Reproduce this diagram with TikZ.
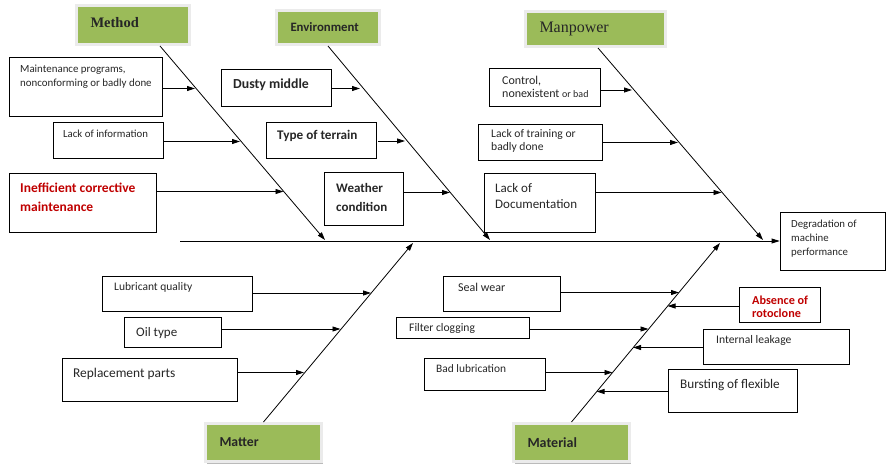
\documentclass[tikz,border=0pt]{standalone}
\usepackage{fontspec}
\setmainfont{Carlito}
\newfontfamily\catserif{Liberation Serif}
\usetikzlibrary{arrows.meta,shadows}
\definecolor{catgreen}{HTML}{9BBB59}
\definecolor{causered}{HTML}{C00000}
\tikzset{
  cat/.style={draw=black!8, line width=3pt, fill=catgreen, inner xsep=14pt, align=left, text=black!85,
    drop shadow={shadow xshift=1.5pt, shadow yshift=-2pt, opacity=.45, fill=black!60}},
  cause/.style={draw, line width=0.8pt, fill=white, inner sep=0pt},
  txt/.style={inner sep=0pt, align=left, anchor=west, text=black!85},
  arr/.style={line width=0.8pt, -{Triangle[length=8pt,width=5pt]}}
}
\begin{document}
\begin{tikzpicture}[x=1pt,y=-1pt]
    \useasboundingbox (0,0) rectangle (886,468);

    % categories
    \node (method) [cat, minimum width=113pt, minimum height=39pt, text width=85pt, text depth=6pt, font=\catserif\bfseries\fontsize{14.5}{16}\selectfont] at (133,25) {Method};
    \node (environment) [cat, minimum width=103pt, minimum height=34pt, text width=75pt, font=\bfseries\fontsize{12.8}{14}\selectfont] at (328,27.5) {Environment};
    \node (manpower) [cat, minimum width=140pt, minimum height=35pt, text width=112pt, font=\catserif\fontsize{16}{17}\selectfont] at (595.5,29) {Manpower};
    \node (matter) [cat, minimum width=116pt, minimum height=38pt, text width=88pt, font=\bfseries\fontsize{13.7}{15}\selectfont] at (263.5,442.5) {Matter};
    \node (material) [cat, minimum width=116pt, minimum height=38pt, text width=88pt, font=\bfseries\fontsize{14}{15}\selectfont] at (571.5,442.5) {Material};

    % effect
    \node (effect) [cause, minimum width=105pt, minimum height=58pt] at (832.5,241) {};
    \node (effectt) [txt, font=\fontsize{10.8}{14}\selectfont] at (791,239) {Degradation of\\machine\\performance};

    % spine and bones
    \coordinate (tail) at (180,241);
    \coordinate (methodend) at (325,240);
    \coordinate (environmentend) at (490,240);
    \coordinate (manpowerend) at (763,240);
    \coordinate (matterend) at (413,243);
    \coordinate (materialend) at (720,243);
    \draw[arr] (tail) -- (effect.west);
    \draw[arr] ([xshift=27pt]method.south) -- (methodend);
    \draw[arr] (environment.south) -- (environmentend);
    \draw[arr] ([xshift=2.5pt]manpower.south) -- (manpowerend);
    \draw[arr] (matter.north) -- (matterend);
    \draw[arr] (material.north) -- (materialend);

    % method causes
    \node (mc1) [cause, minimum width=153pt, minimum height=59pt] at (85.5,86.5) {};
    \node (mc1t) [txt, font=\fontsize{10.9}{14}\selectfont] at (20,77) {Maintenance programs,\\nonconforming or badly done};
    \node (mc2) [cause, minimum width=110pt, minimum height=36pt] at (108,140) {};
    \node (mc2t) [txt, font=\fontsize{10.8}{13}\selectfont] at (63,134) {Lack of information};
    \node (mc3) [cause, minimum width=147pt, minimum height=59pt] at (82.5,202.5) {};
    \node (mc3t) [txt, text=causered, font=\bfseries\fontsize{13.5}{19}\selectfont] at (20,197) {Inefficient corrective\\maintenance};
    \coordinate (m1) at (195,88.5);
    \coordinate (m2) at (240,141.5);
    \coordinate (m3) at (283.5,191.5);
    \draw[arr] (mc1.east |- m1) -- (m1);
    \draw[arr] (mc2.east |- m2) -- (m2);
    \draw[arr] (mc3.east |- m3) -- (m3);

    % environment causes
    \node (ec1) [cause, minimum width=110pt, minimum height=37pt] at (276,87.5) {};
    \node (ec1t) [txt, font=\bfseries\fontsize{13.8}{16}\selectfont] at (233,85) {Dusty middle};
    \node (ec2) [cause, minimum width=110pt, minimum height=36pt] at (321,140) {};
    \node (ec2t) [txt, font=\bfseries\fontsize{13.2}{16}\selectfont] at (277,136) {Type of terrain};
    \node (ec3) [cause, minimum width=79pt, minimum height=53pt] at (363.5,198.5) {};
    \node (ec3t) [txt, font=\bfseries\fontsize{13}{19}\selectfont] at (336,197.5) {Weather\\condition};
    \coordinate (e1) at (360,88.5);
    \coordinate (e2) at (405,141);
    \coordinate (e3) at (450,192.5);
    \draw[arr] (ec1.east |- e1) -- (e1);
    \draw[arr] ([xshift=2pt]ec2.east |- e2) -- (e2);
    \draw[arr] (ec3.east |- e3) -- (e3);

    % manpower causes
    \node (pc1) [cause, minimum width=111pt, minimum height=38pt] at (544.5,87) {};
    \node (pc1t) [txt, font=\fontsize{12}{13.5}\selectfont] at (502,87) {Control,\\nonexistent {\fontsize{10}{13.5}\selectfont or bad}};
    \node (pc2) [cause, minimum width=124pt, minimum height=36pt] at (540,142) {};
    \node (pc2t) [txt, font=\fontsize{11.6}{12.5}\selectfont] at (491,141) {Lack of training or\\badly done};
    \node (pc3) [cause, minimum width=111pt, minimum height=59pt] at (539.5,202.5) {};
    \node (pc3t) [txt, font=\fontsize{13}{16}\selectfont] at (495,196) {Lack of\\Documentation};
    \coordinate (p1) at (632,90);
    \coordinate (p2) at (678,142.5);
    \coordinate (p3) at (721.5,192.5);
    \draw[arr] (pc1.east |- p1) -- (p1);
    \draw[arr] (pc2.east |- p2) -- (p2);
    \draw[arr] (pc3.east |- p3) -- (p3);

    % matter causes
    \node (tc1) [cause, minimum width=150pt, minimum height=35pt] at (177,293.5) {};
    \node (tc1t) [txt, font=\fontsize{11.5}{13}\selectfont] at (114,287) {Lubricant quality};
    \node (tc2) [cause, minimum width=97pt, minimum height=30pt] at (172.5,332) {};
    \node (tc2t) [txt, font=\fontsize{13}{15}\selectfont] at (136,333) {Oil type};
    \node (tc3) [cause, minimum width=175pt, minimum height=43pt] at (149.5,379.5) {};
    \node (tc3t) [txt, font=\fontsize{13.4}{15}\selectfont] at (73,374) {Replacement parts};
    \coordinate (t1) at (371,293);
    \coordinate (t2) at (340.5,329);
    \coordinate (t3) at (304,372.5);
    \draw[arr] (tc1.east |- t1) -- (t1);
    \draw[arr] (tc2.east |- t2) -- (t2);
    \draw[arr] (tc3.east |- t3) -- (t3);

    % material causes
    \node (lc1) [cause, minimum width=117pt, minimum height=35pt] at (501.5,293.5) {};
    \node (lc1t) [txt, font=\fontsize{12}{14}\selectfont] at (458,287) {Seal wear};
    \node (lc2) [cause, minimum width=81pt, minimum height=35pt] at (779.5,304.5) {};
    \node (lc2t) [txt, text=causered, font=\bfseries\fontsize{12.2}{13}\selectfont] at (752,306.5) {Absence of\\rotoclone};
    \node (lc3) [cause, minimum width=133pt, minimum height=21pt] at (462.5,327.5) {};
    \node (lc3t) [txt, font=\fontsize{11.6}{13}\selectfont] at (409,328) {Filter clogging};
    \node (lc4) [cause, minimum width=146pt, minimum height=35pt] at (776,346.5) {};
    \node (lc4t) [txt, font=\fontsize{11.6}{13}\selectfont] at (716,340) {Internal leakage};
    \node (lc5) [cause, minimum width=121pt, minimum height=32pt] at (484.5,374) {};
    \node (lc5t) [txt, font=\fontsize{11.4}{13}\selectfont] at (436,369) {Bad lubrication};
    \node (lc6) [cause, minimum width=129pt, minimum height=43pt] at (732.5,390.5) {};
    \node (lc6t) [txt, font=\fontsize{13.2}{15}\selectfont] at (680,385) {Bursting of flexible};
    \coordinate (l1) at (679,292.5);
    \coordinate (l2) at (667.5,306);
    \coordinate (l3) at (648.5,329);
    \coordinate (l4) at (633,347.5);
    \coordinate (l5) at (612.5,372.5);
    \coordinate (l6) at (596.5,391.5);
    \draw[arr] (lc1.east |- l1) -- (l1);
    \draw[arr] (lc2.west |- l2) -- (l2);
    \draw[arr] (lc3.east |- l3) -- (l3);
    \draw[arr] (lc4.west |- l4) -- (l4);
    \draw[arr] (lc5.east |- l5) -- (l5);
    \draw[arr] (lc6.west |- l6) -- (l6);
\end{tikzpicture}
\end{document}
